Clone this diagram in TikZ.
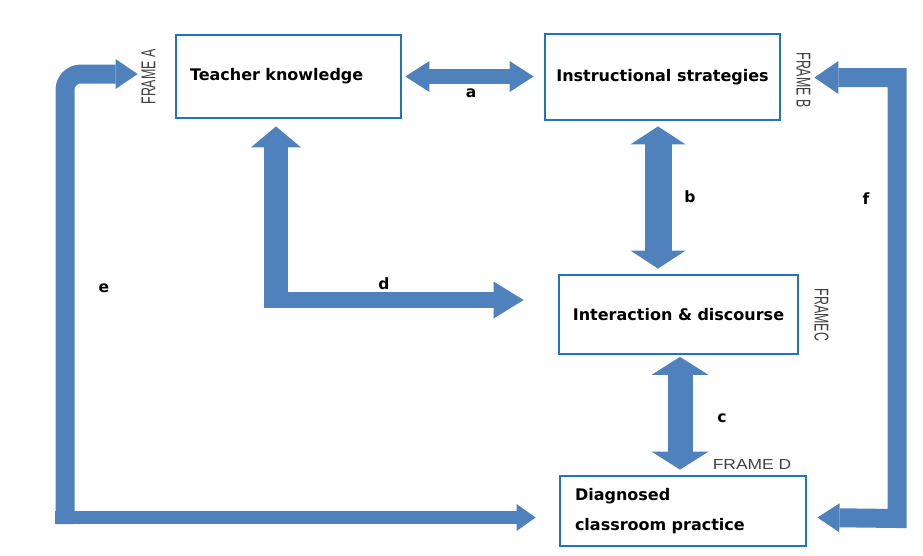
\documentclass[tikz,border=0pt]{standalone}
\usepackage{fontspec}
\newfontfamily\dejavu{DejaVu Sans}
\newfontfamily\arial{Liberation Sans}
\usetikzlibrary{arrows.meta}
\definecolor{boxblue}{RGB}{30,115,195}
\definecolor{arrowblue}{RGB}{79,129,189}
\definecolor{framegray}{RGB}{64,64,64}
\tikzset{%
  box/.style      = {draw=boxblue, line width=2.8pt, rectangle, inner sep=0pt,
    font=\dejavu\bfseries\fontsize{16}{18}\selectfont},
  fat/.style      = {draw=arrowblue, line width=#1, line join=miter}, % Block arrow
  onehead/.style 2 args = {arrows={-Triangle[width=#1,length=#2,line width=0pt]}},
  twohead/.style 2 args = {arrows={Triangle[width=#1,length=#2,line width=0pt]-Triangle[width=#1,length=#2,line width=0pt]}},
  frame/.style    = {font=\arial\fontsize{20}{22}\selectfont, text=framegray, inner sep=0pt}, % Frame tag
  tag/.style      = {font=\dejavu\bfseries\fontsize{15.5}{16}\selectfont, inner sep=0pt} % Arrow letter
}

\begin{document}
\begin{tikzpicture}[x=1pt, y=-1pt]
\useasboundingbox (0,0) rectangle (923,555);
\draw
	% Drawing the four blocks :
	node at (288.5,76.5) [box, minimum width=225pt, minimum height=83pt,
		text width=197pt, align=left] (tk) {Teacher knowledge}
	node at (662.5,77) [box, minimum width=235pt, minimum height=86pt] (is) {Instructional strategies}
	node at (678.5,314.5) [box, minimum width=239pt, minimum height=79pt] (id) {Interaction \& discourse}
	node at (683,511) [box, minimum width=246pt, minimum height=70pt, text width=216pt, align=left,
		font=\dejavu\bfseries\fontsize{16}{30}\selectfont] (dc) {Diagnosed\\classroom practice};
	% Frame tags
\draw
	node at ([shift={(-26,0.5)}]tk.west) [frame, rotate=90, xscale=0.62] (framea) {FRAME A}
	node at ([shift={(22,3)}]is.east) [frame, rotate=-90, xscale=0.62] (frameb) {FRAME B}
	node at ([shift={(22,0.5)}]id.east) [frame, rotate=-90, xscale=0.62] (framec) {FRAMEC}
	node at ([shift={(69,-10)}]dc.north) [frame, font=\arial\fontsize{14.5}{16}\selectfont,
		xscale=1.2] (framed) {FRAME D};
	% Turning points of the bent arrows
	\coordinate (dturn) at (276,300);
	\coordinate (eturn) at (65,517.5);
	\coordinate (fturn) at (897,518.5);
	% Joining blocks.
	\draw[fat=15, twohead={31pt}{24pt}] ([xshift=3pt]tk.east) -- ([xshift=-10pt]tk.east -| is.west);
	\draw[fat=27, twohead={55pt}{18pt}] ([shift={(-4.5,5)}]is.south) -- ([shift={(-20.5,-5)}]id.north);
	\draw[fat=25, twohead={57pt}{18pt}] ([shift={(1.5,1.5)}]id.south) -- ([shift={(-3,-5)}]dc.north);
	\draw[fat=24, onehead={50pt}{21pt}] ([yshift=-8pt]dturn) -- ([yshift=-7pt]dturn |- tk.south);
	\draw[fat=16, onehead={37pt}{30pt}] ([xshift=-12pt]dturn) -- ([xshift=-34pt]dturn -| id.west);
	\draw[fat=19, rounded corners=16pt, onehead={30pt}{22pt}] ([yshift=-6.5pt]eturn) |- ([shift={(-37,-2.5)}]tk.west);
	\draw[fat=13, onehead={27pt}{19pt}] ([xshift=-10pt]eturn) -- ([xshift=-23pt]eturn -| dc.west);
	\draw[fat=19, arrows={Triangle[width=33pt,length=24pt,line width=0pt]-Triangle[width=29pt,length=22pt,line width=0pt]}]
		([shift={(33,0.5)}]is.east) -| (fturn) -- ([shift={(10,6.5)}]dc.east);
	% Letters of the arrows
\draw
	node at (471,93) [tag] (laba) {a}
	node at (690,197) [tag] (labb) {b}
	node at (722,418) [tag] (labc) {c}
	node at (384,284) [tag] (labd) {d}
	node at (104,288) [tag] (labe) {e}
	node at (866,199) [tag] (labf) {f};
\end{tikzpicture}
\end{document}
